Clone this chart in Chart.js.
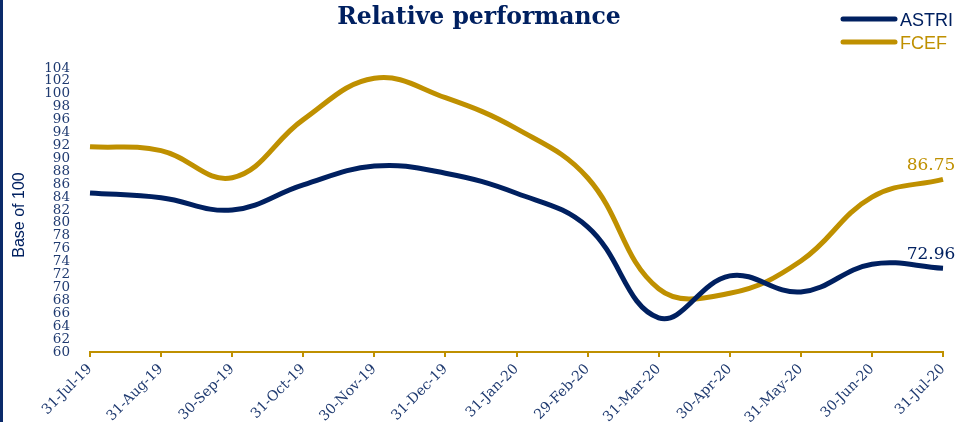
<!DOCTYPE html>
<html>
<head>
<meta charset="utf-8">
<script src="https://cdn.jsdelivr.net/npm/chart.js@4.4.1/dist/chart.umd.min.js"></script>
<style>
  html, body { margin: 0; padding: 0; background: #fff; }
  #wrap { position: relative; width: 964px; height: 422px; box-sizing: border-box; border-left: 3px solid #0B2A6A; }
  canvas { display: block; }
</style>
</head>
<body>
<div id="wrap"><canvas id="c" width="961" height="422"></canvas></div>
<script>
const categories = ['31-Jul-19','31-Aug-19','30-Sep-19','31-Oct-19','30-Nov-19','31-Dec-19','31-Jan-20','29-Feb-20','31-Mar-20','30-Apr-20','31-May-20','30-Jun-20','31-Jul-20'];
const astri = [84.65, 83.9, 82.0, 85.9, 88.8, 87.7, 84.6, 79.4, 65.3, 71.8, 69.3, 73.6, 72.96];
const fcef  = [91.8, 91.2, 87.0, 96.0, 102.4, 99.4, 94.6, 87.0, 69.8, 69.1, 74.1, 84.0, 86.75];
const yTicks = [60,62,64,66,68,70,72,74,76,78,80,82,84,86,88,90,92,94,96,98,100,102,104];
const seriesNames = ['ASTRI', 'FCEF'];

const NAVY = '#002060';
const GOLD = '#BF9000';
const TEXT = '#1F3A70';
const SERIF = '"DejaVu Serif", "Liberation Serif", serif';

const overlay = {
  id: 'overlay',
  afterDraw(chart) {
    const ctx = chart.ctx;
    ctx.save();
    // title
    ctx.font = 'bold 23.5px ' + SERIF;
    ctx.fillStyle = NAVY;
    ctx.textAlign = 'center';
    ctx.textBaseline = 'middle';
    ctx.fillText('Relative performance', 476, 18);
    // legend
    chart.data.datasets.forEach((ds, i) => {
      const y = 19 + i * 23;
      ctx.strokeStyle = ds.borderColor;
      ctx.lineWidth = 5;
      ctx.lineCap = 'round';
      ctx.beginPath();
      ctx.moveTo(840, y);
      ctx.lineTo(892, y);
      ctx.stroke();
      ctx.font = '18px "Liberation Sans", Arial, sans-serif';
      ctx.fillStyle = ds.borderColor;
      ctx.textAlign = 'left';
      ctx.textBaseline = 'middle';
      ctx.fillText(ds.label, 897, y + 2);
    });
    // end labels
    chart.data.datasets.forEach((ds, i) => {
      const meta = chart.getDatasetMeta(i);
      const pt = meta.data[meta.data.length - 1];
      const v = ds.data[ds.data.length - 1];
      ctx.font = '17px ' + SERIF;
      ctx.fillStyle = ds.borderColor;
      ctx.textAlign = 'center';
      ctx.textBaseline = 'alphabetic';
      ctx.fillText(v.toFixed(2), pt.x - 12, pt.y - 9);
    });
    // y axis title
    ctx.translate(17, 215);
    ctx.rotate(-Math.PI / 2);
    ctx.font = '16px "Liberation Sans", Arial, sans-serif';
    ctx.fillStyle = NAVY;
    ctx.textAlign = 'center';
    ctx.textBaseline = 'middle';
    ctx.fillText('Base of 100', 0, 0);
    ctx.restore();
  }
};

new Chart(document.getElementById('c'), {
  type: 'line',
  data: {
    labels: categories,
    datasets: [
      { label: seriesNames[0], data: astri, borderColor: NAVY, backgroundColor: NAVY, borderWidth: 5, pointRadius: 0, tension: 0.4, borderCapStyle: 'butt' },
      { label: seriesNames[1], data: fcef, borderColor: GOLD, backgroundColor: GOLD, borderWidth: 5, pointRadius: 0, tension: 0.4, borderCapStyle: 'butt' }
    ]
  },
  options: {
    responsive: false,
    animation: false,
    layout: { padding: { top: 68, right: 21, left: 0, bottom: 0 } },
    plugins: { legend: { display: false }, title: { display: false }, tooltip: { enabled: false } },
    scales: {
      x: {
        offset: false,
        grid: { display: true, drawOnChartArea: false, drawTicks: true, tickLength: 5, color: GOLD, lineWidth: 2 },
        border: { display: true, color: GOLD, width: 2 },
        ticks: { color: TEXT, font: { family: SERIF, size: 14 }, maxRotation: 45, minRotation: 45, autoSkip: false, padding: 4 },
        afterFit(scale) { scale.height = 70; }
      },
      y: {
        min: 60, max: 104,
        afterBuildTicks(scale) { scale.ticks = yTicks.map(v => ({ value: v })); },
        grid: { display: false },
        border: { display: false },
        ticks: { color: TEXT, font: { family: SERIF, size: 13.5, lineHeight: 1 }, padding: 12, autoSkip: false, callback: v => String(v) },
        afterFit(scale) { scale.width = 87; }
      }
    }
  },
  plugins: [overlay]
});
</script>
</body>
</html>
